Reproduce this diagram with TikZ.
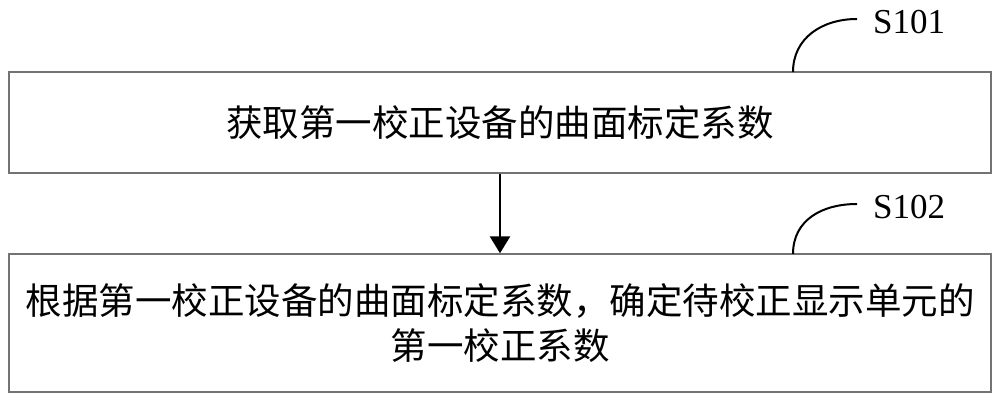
\documentclass[tikz,border=0pt]{standalone}
\usepackage{fontspec}
\setmainfont{Liberation Serif}
\newfontfamily\cjk{Noto Sans CJK SC}
\usetikzlibrary{arrows.meta}
\begin{document}
\begin{tikzpicture}[x=1pt,y=-1pt,
  stepbox/.style={draw=black!55,line width=1.4pt,rectangle,minimum width=982pt,inner sep=0pt,align=center,
    font=\cjk\fontsize{36.5}{45}\selectfont},
  lbl/.style={font=\fontsize{35}{40}\selectfont,inner sep=1pt,anchor=west},
  hook/.style={line width=2pt,black},
  flow/.style={line width=2.6pt,-{Triangle[length=17pt,width=20pt]}}]
\useasboundingbox (0,0) rectangle (1000,403);
\node[stepbox,minimum height=101pt] (b1) at (500,122.5) {获取第一校正设备的曲面标定系数};
\node[stepbox,minimum height=138pt] (b2) at (500,323) {根据第一校正设备的曲面标定系数，确定待校正显示单元的\\第一校正系数};
\draw[flow] (b1.south) -- (b2.north);
\node[lbl] (s1) at (872,22) {S101};
\node[lbl] (s2) at (872,207) {S102};
\coordinate (c1) at (793,72);
\coordinate (c2) at (793,254);
\draw[hook] (c1) .. controls (793,38) and (822,19) .. (857,19);
\draw[hook] (c2) .. controls (793,220) and (822,204) .. (857,204);
\end{tikzpicture}
\end{document}
